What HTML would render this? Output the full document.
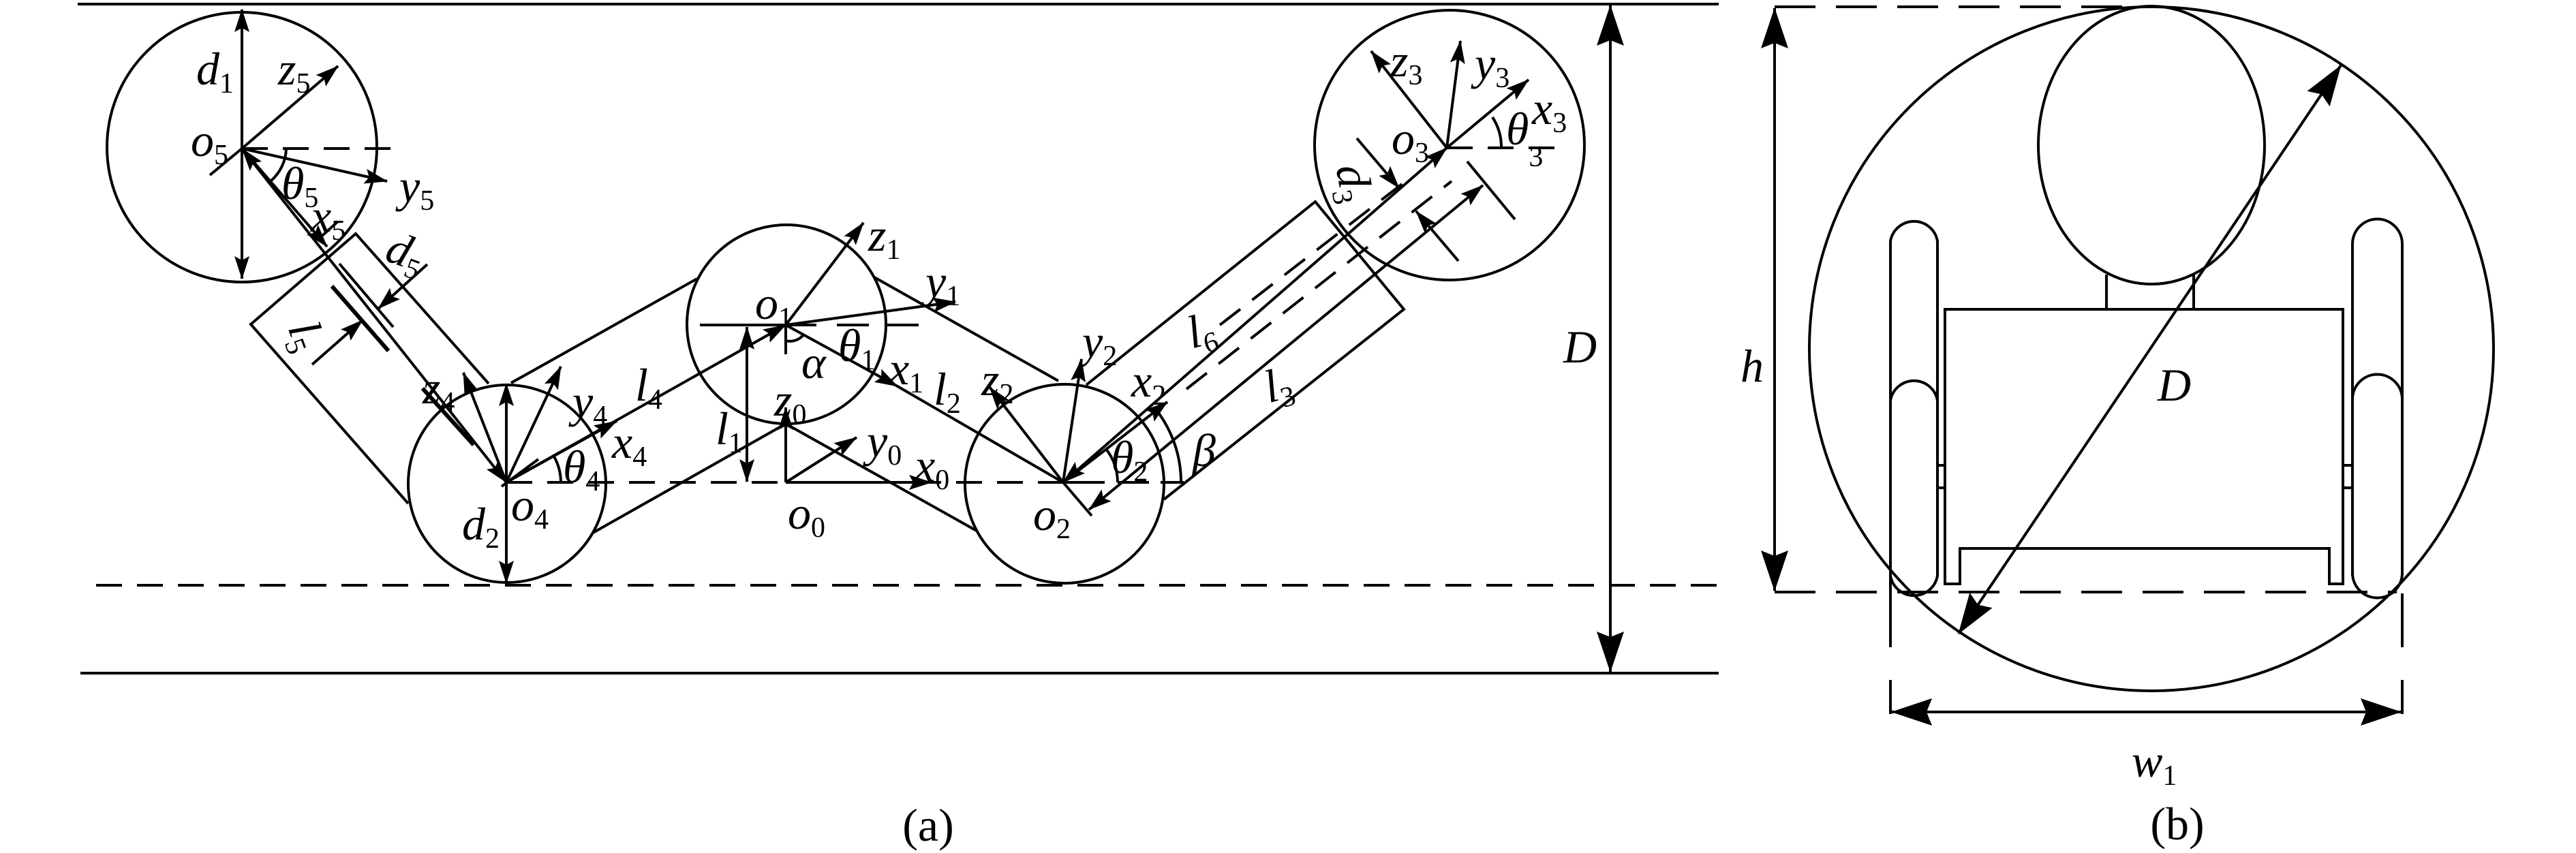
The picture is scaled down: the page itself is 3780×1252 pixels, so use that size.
<!DOCTYPE html>
<html><head><meta charset="utf-8"><style>
html,body{margin:0;padding:0;background:#fff}
svg{display:block}
text{font-family:"Liberation Serif",serif;font-style:italic;font-size:68px;fill:#000}
.s{font-size:42px;font-style:normal}
.u{font-style:normal}
</style></head><body>
<svg width="3780" height="1252" viewBox="0 0 3780 1252" xmlns="http://www.w3.org/2000/svg">
<defs>
<marker id="a" viewBox="0 0 34 22" refX="33" refY="11" markerWidth="34" markerHeight="22" markerUnits="userSpaceOnUse" orient="auto-start-reverse"><path d="M0,0 L34,11 L0,22 L6,11 z" fill="#000"/></marker>
<marker id="A" viewBox="0 0 60 40" refX="59" refY="20" markerWidth="60" markerHeight="40" markerUnits="userSpaceOnUse" orient="auto-start-reverse"><path d="M0,0 L60,20 L0,40 L8,20 z" fill="#000"/></marker>
</defs>
<g fill="none" stroke="#000" stroke-width="4">
<line x1="114" y1="6" x2="2522" y2="6"/>
<line x1="118" y1="988" x2="2522" y2="988"/>
<line x1="141" y1="859" x2="2522" y2="859" stroke-dasharray="38 22"/>
<line x1="2363" y1="8" x2="2363" y2="986" marker-start="url(#A)" marker-end="url(#A)"/>
<circle cx="355" cy="216" r="198"/>
<circle cx="744" cy="710" r="145"/>
<circle cx="1154" cy="476" r="146"/>
<circle cx="1562" cy="710" r="146"/>
<circle cx="2127" cy="213" r="198"/>
<polyline points="717,563 522,343 368,476 599,739"/>
<line x1="750" y1="562" x2="1023" y2="409"/>
<line x1="870" y1="782" x2="1153" y2="622"/>
<line x1="1283" y1="407" x2="1553" y2="559"/>
<line x1="1153" y1="622" x2="1433" y2="779"/>
<polyline points="1594,565 1930,296 2060,454 1708,733"/>
<line x1="355" y1="218" x2="590" y2="218" stroke-dasharray="38 22"/>
<line x1="743" y1="708" x2="1731" y2="708" stroke-dasharray="38 22"/>
<line x1="2123" y1="217" x2="2303" y2="217" stroke-dasharray="38 22"/>
<line x1="355" y1="14" x2="355" y2="409" marker-start="url(#a)" marker-end="url(#a)"/>
<line x1="355" y1="218" x2="496" y2="97" marker-end="url(#a)"/>
<line x1="355" y1="218" x2="568" y2="266" marker-end="url(#a)"/>
<line x1="355" y1="218" x2="480" y2="362" marker-end="url(#a)"/>
<line x1="308" y1="257" x2="355" y2="218"/>
<line x1="355" y1="218" x2="743" y2="708" marker-start="url(#a)" marker-end="url(#a)"/>
<path d="M420,218 A65,65 0 0 1 398,265"/>
<line x1="498" y1="387" x2="577" y2="480"/>
<line x1="487" y1="420" x2="570" y2="515" stroke-width="6"/>
<line x1="620" y1="570" x2="695" y2="653" stroke-width="6"/>
<line x1="627" y1="388" x2="555" y2="453" marker-end="url(#a)"/>
<line x1="458" y1="535" x2="532" y2="470" marker-end="url(#a)"/>
<line x1="466" y1="352" x2="496" y2="325"/>
<line x1="743" y1="563" x2="743" y2="856" marker-start="url(#a)" marker-end="url(#a)"/>
<line x1="743" y1="708" x2="680" y2="547" marker-end="url(#a)"/>
<line x1="743" y1="708" x2="823" y2="538" marker-end="url(#a)"/>
<line x1="743" y1="708" x2="905" y2="618" marker-end="url(#a)"/>
<line x1="743" y1="708" x2="1153" y2="477" marker-end="url(#a)"/>
<path d="M823,708 A80,80 0 0 0 813,670"/>
<line x1="736" y1="714" x2="790" y2="674"/>
<line x1="1027" y1="477" x2="1198" y2="477"/>
<line x1="1228" y1="477" x2="1275" y2="477"/>
<line x1="1302" y1="477" x2="1348" y2="477"/>
<line x1="1096" y1="480" x2="1096" y2="707" marker-start="url(#a)" marker-end="url(#a)"/>
<line x1="1153" y1="477" x2="1267" y2="327" marker-end="url(#a)"/>
<line x1="1153" y1="477" x2="1402" y2="443" marker-end="url(#a)"/>
<line x1="1153" y1="477" x2="1317" y2="567" marker-end="url(#a)"/>
<line x1="1317" y1="567" x2="1560" y2="708"/>
<line x1="1153" y1="477" x2="1153" y2="520"/>
<path d="M1153,500 A25,25 0 0 0 1180,490"/>
<line x1="1153" y1="708" x2="1153" y2="598" marker-end="url(#a)"/>
<line x1="1153" y1="708" x2="1257" y2="642" marker-end="url(#a)"/>
<line x1="1153" y1="708" x2="1367" y2="708" marker-end="url(#a)"/>
<line x1="1560" y1="708" x2="1452" y2="568" marker-end="url(#a)"/>
<line x1="1560" y1="708" x2="1587" y2="527" marker-end="url(#a)"/>
<line x1="1560" y1="708" x2="1713" y2="590" marker-end="url(#a)"/>
<line x1="1560" y1="708" x2="1602" y2="757"/>
<line x1="1560" y1="708" x2="1608" y2="708"/>
<line x1="1640" y1="708" x2="1686" y2="708"/>
<line x1="1710" y1="708" x2="1737" y2="708"/>
<path d="M1640,708 A80,80 0 0 0 1623,659"/>
<path d="M1733,708 A173,173 0 0 0 1697,602"/>
<line x1="1560" y1="708" x2="2123" y2="217" marker-start="url(#a)" marker-end="url(#a)"/>
<line x1="1598" y1="748" x2="2176" y2="272" marker-start="url(#a)" marker-end="url(#a)"/>
<line x1="1741" y1="571" x2="2130" y2="266" stroke-dasharray="38 22"/>
<line x1="1790" y1="477" x2="2060" y2="268" stroke-dasharray="38 22"/>
<line x1="2123" y1="217" x2="2012" y2="75" marker-end="url(#a)"/>
<line x1="2123" y1="217" x2="2143" y2="60" marker-end="url(#a)"/>
<line x1="2123" y1="217" x2="2243" y2="117" marker-end="url(#a)"/>
<path d="M2203,217 A80,80 0 0 0 2190,172"/>
<line x1="1991" y1="203" x2="2053" y2="276" marker-end="url(#a)"/>
<line x1="2153" y1="237" x2="2223" y2="322"/>
<line x1="2140" y1="383" x2="2078" y2="310" marker-end="url(#a)"/>
<circle cx="3157" cy="512" r="502"/>
<ellipse cx="3157" cy="213" rx="166" ry="204"/>
<line x1="2604" y1="10" x2="3157" y2="10" stroke-dasharray="60 30"/>
<line x1="2604" y1="869" x2="3517" y2="869" stroke-dasharray="60 30"/>
<line x1="2604" y1="12" x2="2604" y2="867" marker-start="url(#A)" marker-end="url(#A)"/>
<line x1="3091" y1="403" x2="3091" y2="454"/>
<line x1="3219" y1="403" x2="3219" y2="454"/>
<path d="M2854,857 L2854,454 L3438,454 L3438,857 L3418,857 L3418,805 L2876,805 L2876,857 Z"/>
<path d="M2774,875 L2774,354 A35,35 0 0 1 2843,354 L2843,845 A35,35 0 0 1 2774,845"/>
<path d="M2774,588 A35,35 0 0 1 2843,588"/>
<path d="M3452,845 L3452,358 A36,36 0 0 1 3525,358 L3525,841 A36,36 0 0 1 3452,841"/>
<path d="M3452,586 A36,36 0 0 1 3525,586"/>
<line x1="2843" y1="683" x2="2854" y2="683"/><line x1="2843" y1="716" x2="2854" y2="716"/>
<line x1="3438" y1="683" x2="3452" y2="683"/><line x1="3438" y1="716" x2="3452" y2="716"/>
<line x1="2774" y1="875" x2="2774" y2="950"/>
<line x1="3525" y1="871" x2="3525" y2="950"/>
<line x1="2774" y1="998" x2="2774" y2="1048"/>
<line x1="3525" y1="998" x2="3525" y2="1048"/>
<line x1="2776" y1="1045" x2="3523" y2="1045" marker-start="url(#A)" marker-end="url(#A)"/>
<line x1="2874" y1="930" x2="3435" y2="96" marker-start="url(#A)" marker-end="url(#A)"/>
</g>
<g>
<text x="288" y="124">d<tspan class="s" dy="12">1</tspan></text>
<text x="408" y="124">z<tspan class="s" dy="12">5</tspan></text>
<text x="280" y="229">o<tspan class="s" dy="12">5</tspan></text>
<text x="586" y="296">y<tspan class="s" dy="12">5</tspan></text>
<text x="413" y="292">θ<tspan class="s" dy="12">5</tspan></text>
<text x="456" y="340">x<tspan class="s" dy="12">5</tspan></text>
<text x="568" y="390" transform="rotate(20 590 370)">d<tspan class="s" dy="12">5</tspan></text>
<text x="430" y="512" transform="rotate(70 448 491)">l<tspan class="s" dy="12">5</tspan></text>
<text x="620" y="592">z<tspan class="s" dy="12">4</tspan></text>
<text x="840" y="612">y<tspan class="s" dy="12">4</tspan></text>
<text x="932" y="588">l<tspan class="s" dy="12">4</tspan></text>
<text x="898" y="672">x<tspan class="s" dy="12">4</tspan></text>
<text x="826" y="708">θ<tspan class="s" dy="12">4</tspan></text>
<text x="678" y="792">d<tspan class="s" dy="12">2</tspan></text>
<text x="750" y="764">o<tspan class="s" dy="12">4</tspan></text>
<text x="1108" y="468">o<tspan class="s" dy="12">1</tspan></text>
<text x="1274" y="368">z<tspan class="s" dy="12">1</tspan></text>
<text x="1358" y="436">y<tspan class="s" dy="12">1</tspan></text>
<text x="1230" y="530">θ<tspan class="s" dy="12">1</tspan></text>
<text x="1176" y="555">α</text>
<text x="1304" y="564">x<tspan class="s" dy="12">1</tspan></text>
<text x="1370" y="594">l<tspan class="s" dy="12">2</tspan></text>
<text x="1136" y="610">z<tspan class="s" dy="12">0</tspan></text>
<text x="1272" y="670">y<tspan class="s" dy="12">0</tspan></text>
<text x="1342" y="706">x<tspan class="s" dy="12">0</tspan></text>
<text x="1050" y="652">l<tspan class="s" dy="12">1</tspan></text>
<text x="1156" y="776">o<tspan class="s" dy="12">0</tspan></text>
<text x="1588" y="524">y<tspan class="s" dy="12">2</tspan></text>
<text x="1440" y="580">z<tspan class="s" dy="12">2</tspan></text>
<text x="1660" y="582">x<tspan class="s" dy="12">2</tspan></text>
<text x="1630" y="694">θ<tspan class="s" dy="12">2</tspan></text>
<text x="1750" y="684">β</text>
<text x="1516" y="778">o<tspan class="s" dy="12">2</tspan></text>
<text x="1743" y="507" transform="rotate(-15 1764 487)">l<tspan class="s" dy="12">6</tspan></text>
<text x="1856" y="587" transform="rotate(-15 1876 567)">l<tspan class="s" dy="12">3</tspan></text>
<text x="1962" y="284" transform="rotate(80 1984 264)">d<tspan class="s" dy="12">3</tspan></text>
<text x="2040" y="112">z<tspan class="s" dy="12">3</tspan></text>
<text x="2164" y="116">y<tspan class="s" dy="12">3</tspan></text>
<text x="2248" y="182">x<tspan class="s" dy="12">3</tspan></text>
<text x="2210" y="212">θ<tspan class="s" dy="32">3</tspan></text>
<text x="2042" y="226">o<tspan class="s" dy="12">3</tspan></text>
<text x="2294" y="532">D</text>
<text x="2554" y="560">h</text>
<text x="3166" y="588">D</text>
<text x="3128" y="1140">w<tspan class="s" dy="12">1</tspan></text>
<text class="u" x="1362" y="1234" text-anchor="middle">(a)</text>
<text class="u" x="3195" y="1232" text-anchor="middle">(b)</text>
</g>
</svg>
</body></html>
